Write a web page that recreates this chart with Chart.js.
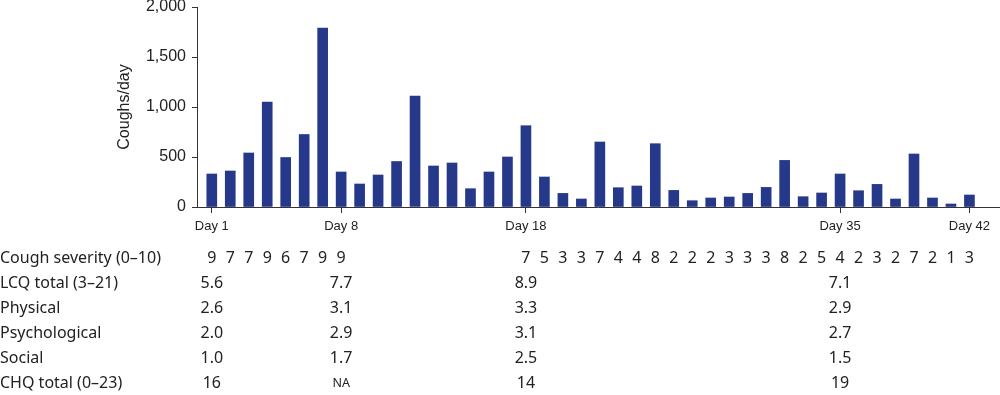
<!DOCTYPE html>
<html>
<head>
<meta charset="utf-8">
<script src="https://cdn.jsdelivr.net/npm/chart.js@4/dist/chart.umd.min.js"></script>
<style>
  html, body { margin: 0; padding: 0; background: #fff; }
  #wrap { width: 1000px; height: 395px; }
</style>
</head>
<body>
<div id="wrap"><canvas id="c" width="1000" height="395"></canvas></div>
<script>
// ---- data ----
const days = Array.from({length: 42}, (_, i) => i + 1);
const coughsPerDay = [330, 360, 540, 1050, 495, 725, 1790, 350, 230, 320,
                      455, 1110, 410, 440, 183, 350, 500, 813, 300, 136,
                      80, 650, 193, 210, 633, 166, 63, 90, 100, 136,
                      196, 466, 103, 140, 330, 163, 226, 80, 530, 90,
                      30, 120];
const tickDays = [1, 8, 18, 35, 42];
const yTicks = [0, 500, 1000, 1500, 2000];
const severity = [9, 7, 7, 9, 6, 7, 9, 9,
                  null, null, null, null, null, null, null, null, null,
                  7, 5, 3, 3, 7, 4, 4, 8, 2, 2, 2, 3, 3, 3, 8, 2, 5, 4, 2, 3, 2, 7, 2, 1, 3];
const assessDays = [1, 8, 18, 35];
const lcqTotal = ["5.6", "7.7", "8.9", "7.1"];
const physical = ["2.6", "3.1", "3.3", "2.9"];
const psychological = ["2.0", "2.9", "3.1", "2.7"];
const social = ["1.0", "1.7", "2.5", "1.5"];
const chqTotal = ["16", "NA", "14", "19"];
const rowLabels = ["Cough severity (0–10)", "LCQ total (3–21)", "Physical", "Psychological", "Social", "CHQ total (0–23)"];

const BAR = '#25388a';
const INK = '#222';
const AXIS = '#333';

const tablePlugin = {
  id: 'tablePlugin',
  afterDraw(chart) {
    const ctx = chart.ctx;
    const xs = chart.scales.x;
    const rowY = [258, 283, 308, 333, 358, 383];
    ctx.save();
    ctx.fillStyle = INK;
    ctx.textBaseline = 'middle';
    ctx.font = '16px "Noto Sans"';
    ctx.textAlign = 'left';
    rowLabels.forEach((t, i) => ctx.fillText(t, 0, rowY[i]));
    ctx.textAlign = 'center';
    ctx.font = '16px "Noto Sans"';
    severity.forEach((v, i) => {
      if (v !== null) ctx.fillText(String(v), xs.getPixelForValue(days[i]), rowY[0]);
    });
    const rows = [lcqTotal, physical, psychological, social, chqTotal];
    rows.forEach((arr, r) => {
      arr.forEach((v, i) => {
        ctx.font = v === 'NA' ? '12.5px "Noto Sans"' : '16px "Noto Sans"';
        ctx.fillText(v, xs.getPixelForValue(assessDays[i]), rowY[r + 1]);
      });
    });
    ctx.restore();
  }
};

new Chart(document.getElementById('c'), {
  type: 'bar',
  data: {
    datasets: [{
      data: days.map((d, i) => ({x: d, y: coughsPerDay[i]})),
      backgroundColor: BAR,
      borderWidth: 0,
      barThickness: 10
    }]
  },
  options: {
    responsive: false,
    animation: false,
    devicePixelRatio: 1,
    layout: { padding: { top: 7, right: 1, left: 0, bottom: 148 } },
    plugins: { legend: { display: false }, tooltip: { enabled: false } },
    scales: {
      x: {
        type: 'linear',
        min: 0.2,
        max: 43.6,
        offset: false,
        afterBuildTicks: (s) => { s.ticks = tickDays.map(v => ({value: v})); },
        afterFit: (s) => { s.height = 40; s.paddingLeft = 0; s.paddingRight = 0; },
        grid: { offset: false, drawOnChartArea: false, drawTicks: true, tickLength: 6, color: AXIS, tickWidth: 1 },
        border: { color: AXIS, width: 1 },
        ticks: {
          autoSkip: false,
          maxRotation: 0,
          padding: 6,
          color: INK,
          font: { family: '"Liberation Sans", Arial', size: 13 },
          callback: (v) => 'Day ' + v
        }
      },
      y: {
        min: 0,
        max: 2000,
        afterBuildTicks: (s) => { s.ticks = yTicks.map(v => ({value: v})); },
        afterFit: (s) => { s.width = 197; s.paddingTop = 0; s.paddingBottom = 0; },
        grid: { drawOnChartArea: false, drawTicks: true, tickLength: 5, color: AXIS },
        border: { color: AXIS, width: 1 },
        ticks: {
          padding: 6,
          color: INK,
          font: { family: '"Liberation Sans", Arial', size: 16 },
          callback: (v) => v.toLocaleString('en-US')
        },
        title: {
          display: true,
          text: 'Coughs/day',
          color: INK,
          font: { family: '"Liberation Sans", Arial', size: 16 },
          padding: { top: 115, bottom: 0 }
        }
      }
    }
  },
  plugins: [tablePlugin]
});
</script>
</body>
</html>
